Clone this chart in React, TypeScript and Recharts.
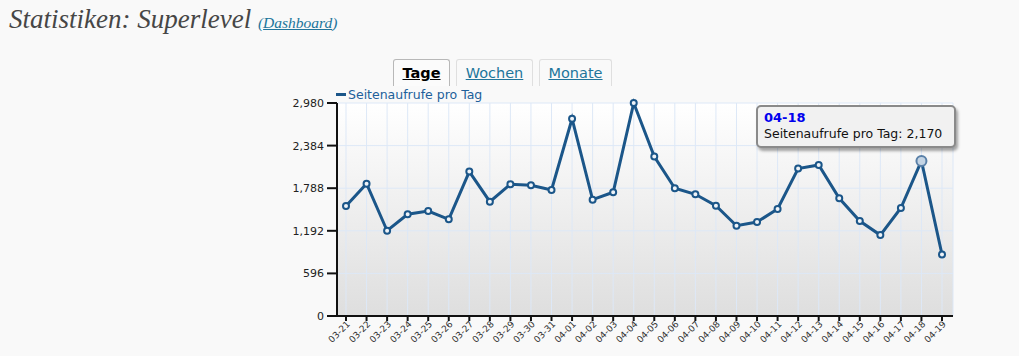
import React from 'react';
import { LineChart, Line, XAxis, YAxis, CartesianGrid, Tooltip } from 'recharts';

const dates = ['03-21','03-22','03-23','03-24','03-25','03-26','03-27','03-28','03-29','03-30','03-31','04-01','04-02','04-03','04-04','04-05','04-06','04-07','04-08','04-09','04-10','04-11','04-12','04-13','04-14','04-15','04-16','04-17','04-18','04-19'];
const views = [1539,1852,1193,1423,1469,1352,2020,1599,1844,1830,1764,2760,1628,1731,2980,2231,1787,1703,1543,1263,1315,1497,2062,2114,1647,1329,1132,1511,2170,861];
const yTicks = [0,596,1192,1788,2384,2980];
const seriesName = 'Seitenaufrufe pro Tag';
const tabs = ['Tage','Wochen','Monate'];

const data = dates.map((d, i) => ({ date: d, views: views[i] }));

const LINE = '#1b5689';
const SANS = '"DejaVu Sans", Verdana, sans-serif';
const fmt = (v: number) => v.toLocaleString('en-US');

const XTick = (props: any) => {
  const { x, y, payload } = props;
  return (
    <g transform={`translate(${x},${y})`}>
      <text x={2} y={0} dy="0.5em" textAnchor="end" transform="rotate(-45)" fontSize={9} fill="#333" fontFamily={SANS}>
        {payload.value}
      </text>
    </g>
  );
};

const TipContent = (props: any) => {
  const { active, payload, label } = props;
  if (!active || !payload || !payload.length) return null;
  return (
    <div style={{
      background: '#f1f1f1', border: '2px solid #8a8a8a', borderRadius: 5,
      boxShadow: '2px 3px 3px rgba(0,0,0,0.35)', padding: '3px 6px 4px 6px',
      fontFamily: SANS, fontSize: 12.5, lineHeight: '16px', width: 184, whiteSpace: 'nowrap'
    }}>
      <div style={{ color: '#0000ee', fontWeight: 'bold', fontSize: 13 }}>{label}</div>
      <div style={{ color: '#111' }}>{seriesName}: {fmt(payload[0].value)}</div>
    </div>
  );
};

export default function App() {
  const tabBase: React.CSSProperties = {
    position: 'absolute', top: 59, height: 27, boxSizing: 'border-box',
    border: '1px solid #dfdfdf', borderBottom: 'none', borderRadius: '3px 3px 0 0',
    fontFamily: SANS, fontSize: 14.5, lineHeight: '26px', textAlign: 'center',
    color: '#21759b', textDecoration: 'underline', background: '#f9f9f9'
  };
  return (
    <div style={{ position: 'fixed', left: 0, top: 0, width: 1019, height: 356, background: '#f9f9f9', overflow: 'hidden' }}>
      <div style={{ position: 'absolute', left: 9, top: 4, fontFamily: '"Liberation Serif", Georgia, serif', fontStyle: 'italic', fontSize: 27, color: '#464646', whiteSpace: 'nowrap' }}>
        Statistiken: Superlevel{' '}
        <span style={{ fontSize: 15.5, color: '#21759b' }}>(<span style={{ textDecoration: 'underline' }}>Dashboard</span>)</span>
      </div>
      <div style={{ ...tabBase, left: 393, width: 57, color: '#000', fontWeight: 'bold', border: '1px solid #b8b8b8', borderBottom: 'none', background: '#fbfbfb' }}>{tabs[0]}</div>
      <div style={{ ...tabBase, left: 456, width: 77 }}>{tabs[1]}</div>
      <div style={{ ...tabBase, left: 539, width: 73 }}>{tabs[2]}</div>
      <div style={{ position: 'absolute', left: 337, top: 103, width: 616, height: 213, background: 'linear-gradient(to bottom, #ffffff 0%, #dedede 100%)' }} />
      <div style={{ position: 'absolute', left: 336, top: 87, display: 'flex', alignItems: 'center', fontFamily: SANS, fontSize: 12.5, color: '#21609a', whiteSpace: 'nowrap' }}>
        <span style={{ display: 'inline-block', width: 10, height: 3, background: LINE, marginRight: 2 }} />
        {seriesName}
      </div>
      <div style={{ position: 'absolute', left: 0, top: 0 }}>
        <LineChart width={1019} height={356} data={data} margin={{ top: 103, right: 66, bottom: 0, left: 0 }}>
          <CartesianGrid stroke="#dde8f7" strokeWidth={1} vertical horizontal />
          <XAxis dataKey="date" interval={0} height={40} padding={{ left: 9, right: 11 }}
            tick={<XTick />} tickSize={5} tickMargin={2}
            axisLine={{ stroke: '#111', strokeWidth: 2 }} tickLine={{ stroke: '#111', strokeWidth: 2 }} />
          <YAxis width={337} domain={[0, 2980]} ticks={yTicks} tickFormatter={fmt} interval={0}
            tickSize={10} tickMargin={3}
            tick={{ fontSize: 11, fill: '#222', fontFamily: SANS }}
            axisLine={{ stroke: '#111', strokeWidth: 2 }} tickLine={{ stroke: '#111', strokeWidth: 2 }} />
          <Tooltip defaultIndex={28} content={<TipContent />} cursor={false}
            position={{ x: 756, y: 105 }} isAnimationActive={false}
            wrapperStyle={{ outline: 'none' }} allowEscapeViewBox={{ x: true, y: true }} />
          <Line type="linear" dataKey="views" name={seriesName} stroke={LINE} strokeWidth={3}
            dot={{ r: 3, fill: '#eef3f8', stroke: LINE, strokeWidth: 2 }}
            activeDot={{ r: 5, fill: '#c4d4e4', stroke: '#5a80a8', strokeWidth: 2 }}
            isAnimationActive={false} />
        </LineChart>
      </div>
    </div>
  );
}
